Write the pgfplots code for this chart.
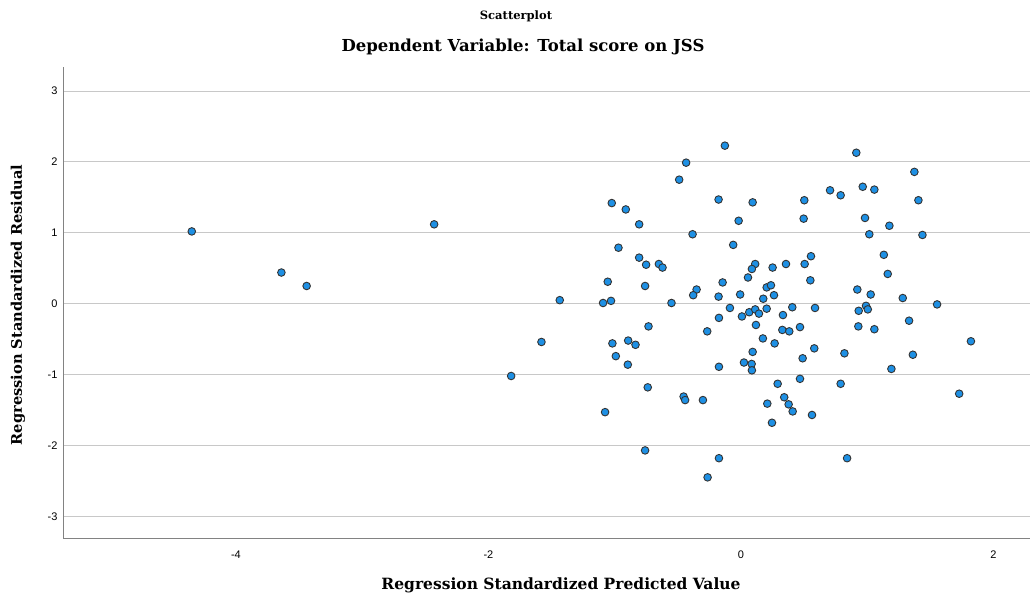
\documentclass[border=0pt]{standalone}
\usepackage{pgfplots}
\pgfplotsset{compat=1.18}
\usepackage{fontspec}
\setmainfont{DejaVu Serif}
\newfontfamily\tickfont{Liberation Sans}
\definecolor{ptblue}{RGB}{30,144,228}
\definecolor{gridgray}{RGB}{200,200,200}
\definecolor{axgray}{RGB}{130,130,130}
\begin{document}
\begin{tikzpicture}[x=1pt,y=1pt]
\path[use as bounding box] (0,0) rectangle (1031,602);
\begin{axis}[
  at={(63pt,63pt)}, anchor=south west,
  width=967pt, height=472pt, scale only axis,
  xmin=-5.37, xmax=2.29, ymin=-3.32, ymax=3.34,
  axis x line=bottom, axis y line=left,
  axis line style={axgray, line width=1pt, -},
  xtick={-4,-2,0,2}, xticklabels={-4,-2,0,2},
  ytick={-3,-2,-1,0,1,2,3}, yticklabels={-3,-2,-1,0,1,2,3},
  major tick length=0pt,
  ymajorgrids, grid style={gridgray, line width=1pt},
  tick label style={font=\tickfont\fontsize{11}{13}\selectfont},
  xticklabel style={yshift=-8pt},
  yticklabel style={xshift=-2pt},
  clip=false,
]
\addplot[only marks, mark=*, mark size=3.8pt, mark options={fill=ptblue, draw=black!80, line width=0.9pt}] coordinates {
(-4.35,1.02) (-3.64,0.44) (-3.44,0.25) (-2.43,1.12) (-1.82,-1.02) (-1.58,-0.54) (-1.435,0.05)
(-0.127,2.23) (-0.434,1.99) (-0.489,1.75) (-1.023,1.42) (-0.912,1.33) (-0.177,1.47) (0.093,1.43)
(-0.018,1.17) (-0.806,1.12) (-0.383,0.98) (-0.97,0.79) (-0.061,0.83) (-0.806,0.65) (-0.751,0.55)
(-0.65,0.56) (-0.621,0.51) (0.357,0.56) (0.113,0.56) (0.087,0.49) (0.251,0.51) (0.056,0.37)
(-1.055,0.31) (-0.759,0.25) (-0.145,0.30) (-0.351,0.20) (-0.378,0.12) (-0.177,0.10) (-0.006,0.13)
(0.204,0.23) (0.238,0.26) (0.177,0.07) (0.262,0.12) (-1.092,0.01) (-1.029,0.04) (-0.55,0.01)
(0.914,2.13) (1.374,1.86) (0.706,1.60) (0.79,1.53) (0.965,1.65) (1.057,1.61) (0.502,1.46)
(1.406,1.46) (0.497,1.20) (0.983,1.21) (1.176,1.10) (1.017,0.98) (1.438,0.97) (1.132,0.69)
(0.555,0.67) (0.505,0.56) (1.163,0.42) (0.55,0.33) (0.922,0.20) (1.028,0.13) (1.282,0.08)
(1.554,-0.01) (0.407,-0.05) (0.587,-0.06) (0.333,-0.16) (0.933,-0.10) (0.991,-0.03) (1.005,-0.08)
(1.332,-0.24) (0.328,-0.37) (0.383,-0.39) (0.468,-0.33) (0.93,-0.32) (1.057,-0.36) (1.822,-0.53)
(0.581,-0.63) (0.489,-0.77) (0.82,-0.70) (1.362,-0.72) (1.192,-0.92) (0.468,-1.06) (0.79,-1.13)
(1.729,-1.27) (0.343,-1.32) (0.378,-1.42) (0.41,-1.52) (0.563,-1.57) (0.841,-2.18) (0.291,-1.13)
(-0.732,-0.32) (-1.018,-0.56) (-0.893,-0.52) (-0.835,-0.58) (-0.991,-0.74) (-0.896,-0.86)
(-0.174,-0.20) (-0.087,-0.06) (0.008,-0.18) (0.066,-0.12) (0.113,-0.08) (0.143,-0.14) (0.204,-0.07)
(-0.267,-0.39) (0.119,-0.30) (0.174,-0.49) (0.267,-0.56) (0.093,-0.68) (0.024,-0.83) (0.085,-0.85)
(0.087,-0.94) (-0.174,-0.89) (-0.738,-1.18) (-0.454,-1.31) (-0.442,-1.36) (-0.301,-1.36)
(-1.076,-1.53) (0.209,-1.41) (0.246,-1.68) (-0.759,-2.07) (-0.174,-2.18) (-0.264,-2.45)
};
\end{axis}
\node[font=\bfseries\fontsize{11.5}{13}\selectfont] at (516,586) {Scatterplot};
\node[font=\bfseries\fontsize{16.5}{19}\selectfont] at (523,555) {Dependent Variable: Total score on JSS};
\node[font=\bfseries\fontsize{15.5}{18}\selectfont] at (561,17) {Regression Standardized Predicted Value};
\node[font=\bfseries\fontsize{14.6}{17}\selectfont, rotate=90] at (18,297) {Regression Standardized Residual};
\end{tikzpicture}
\end{document}
